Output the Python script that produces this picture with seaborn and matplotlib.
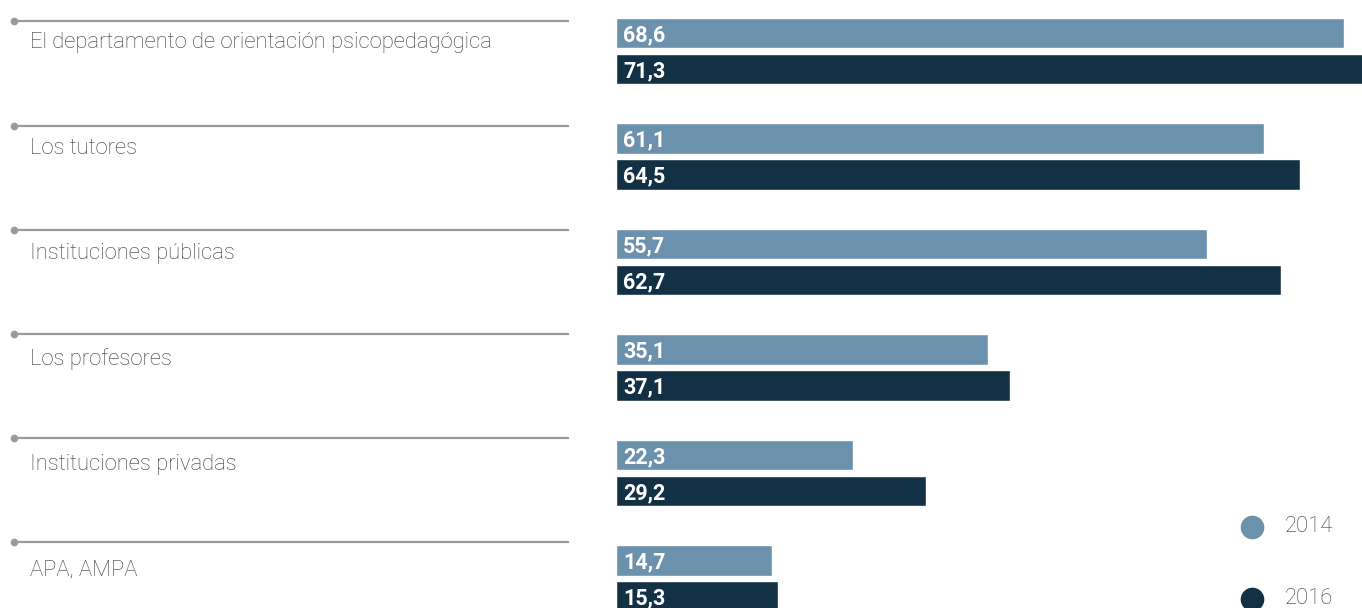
import matplotlib
matplotlib.use("Agg")
import matplotlib.pyplot as plt
import matplotlib.transforms as mtransforms
from matplotlib.lines import Line2D
import seaborn as sns
import pandas as pd

categories = [
    "El departamento de orientación psicopedagógica",
    "Los tutores",
    "Instituciones públicas",
    "Los profesores",
    "Instituciones privadas",
    "APA, AMPA",
]
years = ["2014", "2016"]
values_2014 = [68.6, 61.1, 55.7, 35.1, 22.3, 14.7]
values_2016 = [71.3, 64.5, 62.7, 37.1, 29.2, 15.3]
colors = ["#6B91AD", "#133145"]

df = pd.DataFrame({
    "cat": categories * 2,
    "year": [years[0]] * len(categories) + [years[1]] * len(categories),
    "value": values_2014 + values_2016,
})

sns.set_theme(style="white")
plt.rcParams["font.family"] = ["Roboto", "DejaVu Sans"]

W, H = 1362, 608
fig = plt.figure(figsize=(W / 100, H / 100), dpi=100)
x0 = 616
ax = fig.add_axes([x0 / W, 0, 1 - x0 / W, 1])

pitch = 105.5
top_center = 51.0
bar_h = 30.8 / pitch
bar_step = 36.0 / pitch

sns.barplot(data=df, y="cat", x="value", hue="year", order=categories,
            hue_order=years, palette=colors, orient="h", width=2 * bar_step,
            gap=1 - bar_h / bar_step, saturation=1, legend=False, ax=ax)

ax.set_ylim((H - top_center) / pitch, -top_center / pitch)
ax.set_xlim(0, (W - x0) / 10.612)
ax.axis("off")

# value labels
for cont in ax.containers:
    for bar in cont:
        v = bar.get_width()
        yc = bar.get_y() + bar.get_height() / 2
        ax.annotate(f"{v:.1f}".replace(".", ","), xy=(0, yc),
                    xytext=(7, -2), textcoords="offset pixels",
                    ha="left", va="center", color="white",
                    fontsize=15.5, fontweight="bold", annotation_clip=False)

# left category labels with separator lines
blend = mtransforms.blended_transform_factory(fig.transFigure, ax.transData)
line_pitch = 104.2
for i, cat in enumerate(categories):
    yl = (21.3 + i * line_pitch - top_center) / pitch
    ax.plot([14 / W, 569 / W], [yl, yl], transform=blend, color="#9a9a9a",
            lw=1.6, clip_on=False, solid_capstyle="butt")
    ax.plot([14 / W], [yl], transform=blend, marker="o", markersize=4.5,
            color="#9a9a9a", clip_on=False)
    ax.text(30 / W, i - 8.5 / pitch, cat, transform=blend, ha="left",
            va="center", fontsize=15.8, fontweight="light", color="#3a3a3a")

# legend
for j, (yr, col) in enumerate(zip(years, colors)):
    yy = 1 - (527 + 72 * j) / H
    fig.add_artist(Line2D([1252 / W], [yy], transform=fig.transFigure,
                          marker="o", markersize=16, color=col, ls=""))
    fig.text(1285 / W, yy, yr, ha="left", va="center", fontsize=15.8,
             fontweight="light", color="#3a3a3a")

fig.savefig("out.png", dpi=100)
